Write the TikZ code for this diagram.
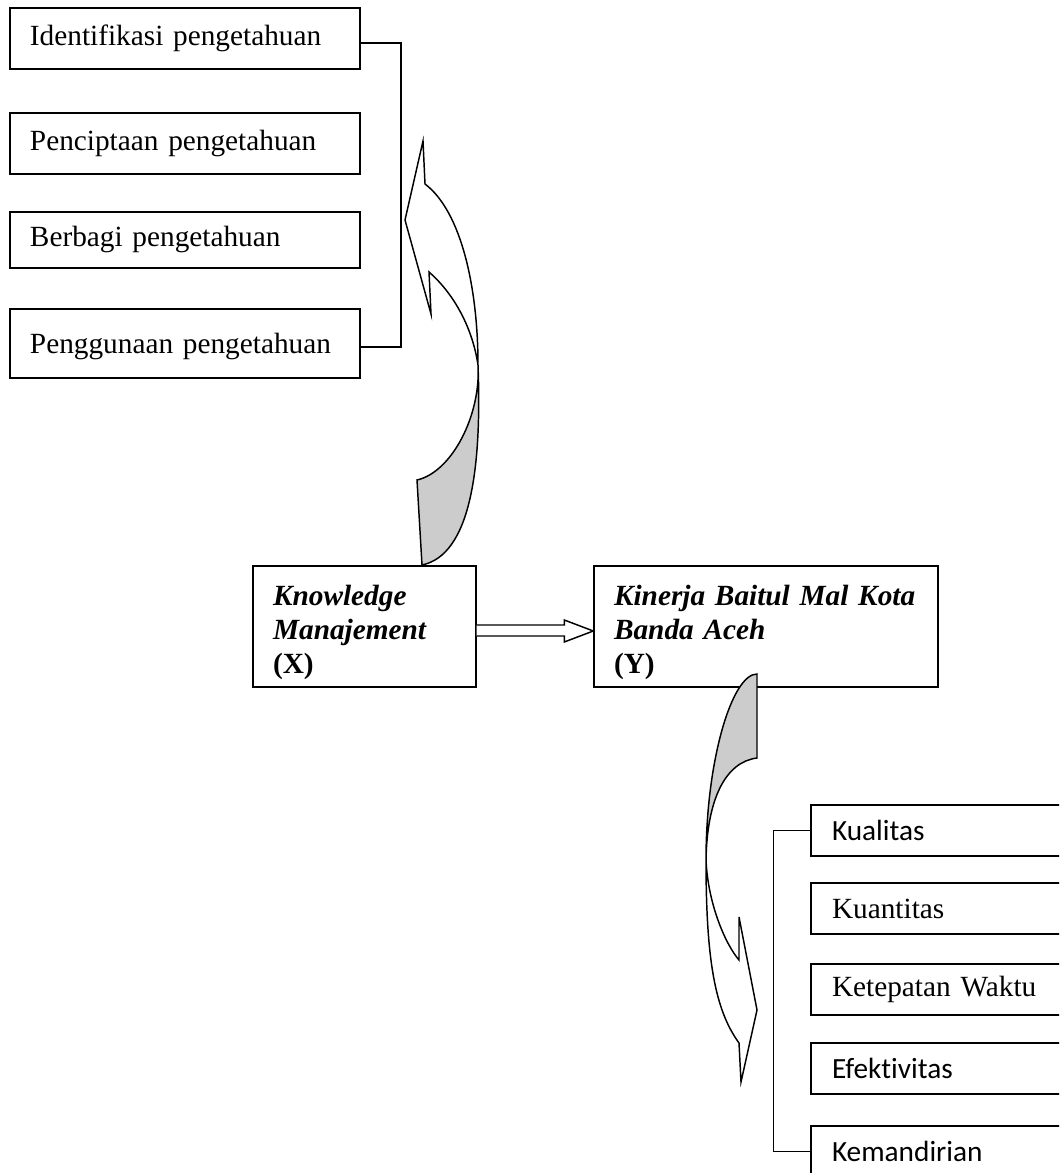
\documentclass[tikz,border=0pt]{standalone}
\usepackage{fontspec}
\setmainfont{Liberation Serif}
\newfontfamily\calibri[Ligatures=NoCommon]{Carlito}
\usepackage{tikz}
\usepackage{xcolor}
\usetikzlibrary{calc}
\definecolor{shadegray}{RGB}{204,204,204}

\begin{document}
\begin{tikzpicture}[
    x=0.4096pt, y=-0.4096pt,
    box/.style={draw, line width=0.6pt, align=left, inner xsep=8.2pt, inner ysep=0pt, font=\fontsize{12}{13.9}\selectfont},
    topbox/.style={box, text width=127pt},
    varbox/.style={box, minimum height=49.6pt, text height=13pt, font=\fontsize{12}{13.9}\selectfont\bfseries\itshape},
    indbox/.style={box, inner xsep=8.6pt, text width=93.4pt, minimum height=20.9pt},
    sansbox/.style={indbox, font=\calibri\fontsize{12}{13.9}\selectfont},
    bracket/.style={line width=0.6pt},
    bigarrow/.style={draw, line width=0.6pt, fill=white, line join=miter}
]
\useasboundingbox (0,0) rectangle (1059,1173);
\clip (0,0) rectangle (1059,1173);

% knowledge management dimensions
\node[topbox, minimum height=25pt] (idf) at (185,38.5) {Identifikasi pengetahuan};
\node[topbox, minimum height=25pt] (pcp) at (185,143.5) {Penciptaan pengetahuan};
\node[topbox, minimum height=22.9pt] (bbg) at (185,240) {Berbagi pengetahuan};
\node[topbox, minimum height=28.3pt, text depth=0pt] (pgn) at (185,343.5) {Penggunaan pengetahuan};

\draw[bracket] ([yshift=-1.8pt]idf.east) -- ++(40,0) |- ([yshift=-1.4pt]pgn.east);

% variables
\node[varbox, text width=74.9pt] (km) at (364.5,626.5) {Knowledge\\Manajement\\\upshape (X)};
\node[varbox, text width=124.5pt] (kbm) at (766,626.5) {Kinerja Baitul Mal Kota\\Banda Aceh\\\upshape (Y)};

\draw[bigarrow] ($(km.east)+(0,-1.5)$) -- ($(kbm.west)+(-29,-1.5)$) -- ($(kbm.west)+(-29,-6.5)$)
    -- ($(kbm.west)+(0,4.5)$) -- ($(kbm.west)+(-29,15.5)$) -- ($(kbm.west)+(-29,9.5)$) -- ($(km.east)+(0,9.5)$);

% performance indicators
\node[sansbox] (kua) at (946,830.5) {Kualitas};
\node[indbox] (kun) at (946,908.5) {Kuantitas};
\node[indbox] (ktw) at (946,989.5) {Ketepatan Waktu};
\node[sansbox] (efk) at (946,1068.5) {Efektivitas};
\node[sansbox] (kmd) at (946,1151.5) {Kemandirian};

\draw[bracket] (kua.west) -- ++(-37,0) |- (kmd.west);

% curved arrow up
\fill[shadegray] (478,365) .. controls (481,415) and (452,472) .. (417,480) -- (422,565)
    .. controls (470,555) and (482,470) .. (478,365) -- cycle;
\draw[bigarrow, fill=none] (417,480) -- (422,565) .. controls (470,555) and (482,470) .. (478,365)
    .. controls (478,290) and (462,212) .. (425,184) -- (423,141) -- (405,220) -- (431,314) -- (429,272)
    .. controls (452,292) and (472,325) .. (478,365) .. controls (481,415) and (452,472) .. (417,480) -- cycle;

% curved arrow down
\fill[shadegray] (757,674) .. controls (732,674) and (706,760) .. (706,860)
    .. controls (707,800) and (725,762) .. (757,758) -- cycle;
\draw[bigarrow, fill=none] (757,674) .. controls (732,674) and (706,760) .. (706,860)
    .. controls (706,960) and (715,1010) .. (739,1043) -- (741,1082) -- (757,1010) -- (739,917) -- (739,960)
    .. controls (726,945) and (708,905) .. (706,860) .. controls (707,800) and (725,762) .. (757,758) -- cycle;
\end{tikzpicture}
\end{document}
